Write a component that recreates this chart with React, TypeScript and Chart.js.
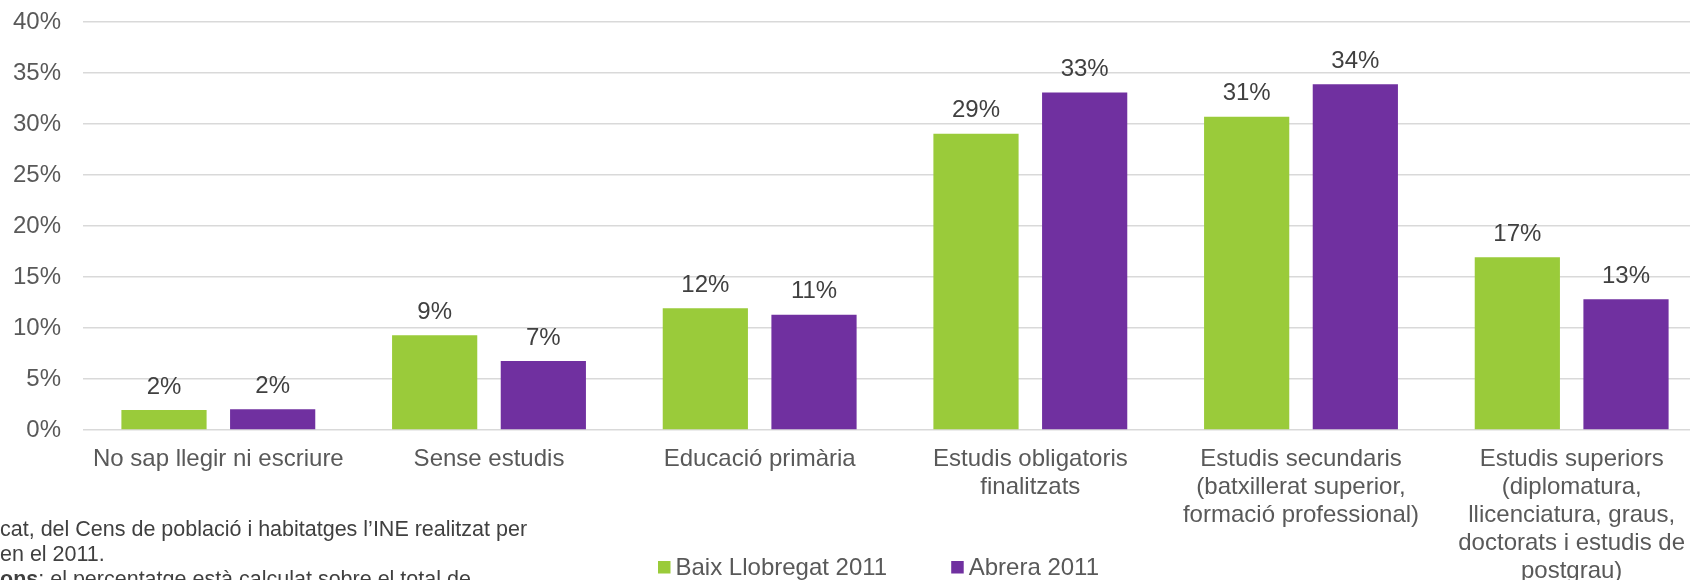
import React, { useEffect, useRef } from 'react';
import { Chart, registerables } from 'chart.js';

Chart.register(...registerables);

const categories: (string | string[])[] = [
  'No sap llegir ni escriure',
  'Sense estudis',
  'Educació primària',
  ['Estudis obligatoris', 'finalitzats'],
  ['Estudis secundaris', '(batxillerat superior,', 'formació professional)'],
  ['Estudis superiors', '(diplomatura,', 'llicenciatura, graus,', 'doctorats i estudis de', 'postgrau)'],
];

const baixValues = [1.96, 9.3, 11.93, 29.05, 30.7, 16.93];
const abreraValues = [2.03, 6.76, 11.3, 33.1, 33.9, 12.81];

const seriesNames = ['Baix Llobregat 2011', 'Abrera 2011'];
const seriesColors = ['#9ACB3A', '#7030A0'];

const yMin = 0;
const yMax = 40;
const yStep = 5;

const footnoteLine1 = 'cat, del Cens de població i habitatges l’INE realitzat per';
const footnoteLine2 = 'en el 2011.';
const footnoteBold = 'ons';
const footnoteLine3 = ': el percentatge està calculat sobre el total de';

const FONT = '"Liberation Sans", Arial, Helvetica, sans-serif';

const dataLabelPlugin = {
  id: 'barValueLabels',
  afterDatasetsDraw(chart: any) {
    const ctx = chart.ctx;
    ctx.save();
    ctx.font = `24px ${FONT}`;
    ctx.fillStyle = '#404040';
    ctx.textAlign = 'center';
    ctx.textBaseline = 'alphabetic';
    chart.data.datasets.forEach((ds: any, i: number) => {
      const meta = chart.getDatasetMeta(i);
      meta.data.forEach((bar: any, j: number) => {
        const v = ds.data[j];
        ctx.fillText(Math.round(v) + '%', bar.x, bar.y - 16.5);
      });
    });
    ctx.restore();
  },
};

const customLegendPlugin = {
  id: 'customLegend',
  afterDraw(chart: any) {
    const ctx = chart.ctx;
    ctx.save();
    ctx.font = `24px ${FONT}`;
    ctx.textBaseline = 'alphabetic';
    ctx.textAlign = 'left';
    let x = 658;
    const baseline = 575;
    const box = 12.5;
    chart.data.datasets.forEach((ds: any) => {
      ctx.fillStyle = ds.backgroundColor;
      ctx.fillRect(x, baseline - 14, box, box);
      ctx.fillStyle = '#595959';
      const tx = x + box + 5;
      ctx.fillText(ds.label, tx, baseline);
      x = tx + ctx.measureText(ds.label).width + 64;
    });
    ctx.restore();
  },
};

export default function App() {
  const canvasRef = useRef<HTMLCanvasElement | null>(null);

  useEffect(() => {
    if (!canvasRef.current) return;
    const chart = new Chart(canvasRef.current, {
      type: 'bar',
      data: {
        labels: categories,
        datasets: [
          { label: seriesNames[0], data: baixValues, backgroundColor: seriesColors[0], borderWidth: 0 },
          { label: seriesNames[1], data: abreraValues, backgroundColor: seriesColors[1], borderWidth: 0 },
        ],
      },
      options: {
        responsive: true,
        maintainAspectRatio: false,
        animation: false,
        layout: { padding: { top: 22, left: 0, right: 13, bottom: 0 } },
        datasets: { bar: { categoryPercentage: 0.803, barPercentage: 0.784 } } as any,
        plugins: {
          legend: { display: false },
          tooltip: { enabled: false },
        },
        scales: {
          x: {
            grid: { display: false, drawTicks: false },
            border: { display: false },
            ticks: {
              color: '#595959',
              font: { family: FONT, size: 24, lineHeight: 1.17 },
              padding: 15,
              maxRotation: 0,
              minRotation: 0,
              autoSkip: false,
            },
            afterFit: (s: any) => {
              s.height = 150;
              s.paddingLeft = 0;
              s.paddingRight = 0;
            },
          },
          y: {
            min: yMin,
            max: yMax,
            ticks: {
              stepSize: yStep,
              callback: (v: any) => v + '%',
              color: '#595959',
              font: { family: FONT, size: 24 },
              padding: 22,
            },
            grid: { color: '#d9d9d9', lineWidth: 1.5, drawTicks: false },
            border: { display: false },
            afterFit: (s: any) => {
              s.width = 83;
              s.paddingTop = 0;
              s.paddingBottom = 0;
            },
          },
        },
      },
      plugins: [dataLabelPlugin, customLegendPlugin],
    });
    return () => chart.destroy();
  }, []);

  return (
    <div style={{ position: 'fixed', left: 0, top: 0, width: 1690, height: 580, overflow: 'hidden', background: '#fff' }}>
      <div style={{ position: 'absolute', left: 0, top: 0, width: 1720, height: 580 }}>
        <canvas ref={canvasRef} />
      </div>
      <div
        style={{
          position: 'absolute',
          left: 0,
          top: 517,
          fontFamily: FONT,
          fontSize: 21.5,
          lineHeight: '25px',
          color: '#404040',
          whiteSpace: 'nowrap',
        }}
      >
        <div>{footnoteLine1}</div>
        <div>{footnoteLine2}</div>
        <div>
          <b>{footnoteBold}</b>
          {footnoteLine3}
        </div>
      </div>
    </div>
  );
}
